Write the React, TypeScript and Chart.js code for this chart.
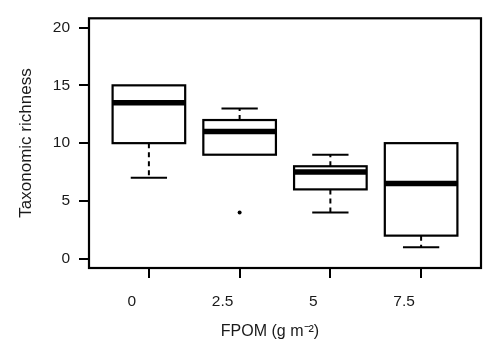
import React, { useEffect, useRef } from "react";
import { Chart, registerables } from "chart.js";

Chart.register(...registerables);

// ---- data ----
const categories = ["0", "2.5", "5", "7.5"];
const lowerWhisker = [7, 9, 4, 1];
const q1 = [10, 9, 6, 2];
const median = [13.5, 11, 7.5, 6.5];
const q3 = [15, 12, 8, 10];
const upperWhisker = [15, 13, 9, 10];
const outlierGroup = [2];
const outlierValue = [4];
const yTicks = [0, 5, 10, 15, 20];
const xTitle = "FPOM (g m\u207B\u00B2)";
const yTitle = "Taxonomic richness";

const FONT = "'Liberation Sans', Arial, Helvetica, sans-serif";
const TEXT = "#1a1a1a";

const boxPlugin = {
  id: "boxes",
  beforeDatasetsDraw(chart: any) {
    const { ctx, chartArea, scales } = chart;
    const x = scales.x;
    const y = scales.y;
    const line = (x1: number, y1: number, x2: number, y2: number) => {
      ctx.beginPath();
      ctx.moveTo(x1, y1);
      ctx.lineTo(x2, y2);
      ctx.stroke();
    };
    ctx.save();
    ctx.strokeStyle = "#000";
    ctx.lineCap = "butt";
    categories.forEach((_, i) => {
      const pos = i + 1;
      const xl = x.getPixelForValue(pos - 0.4);
      const xr = x.getPixelForValue(pos + 0.4);
      const xc = x.getPixelForValue(pos);
      const cl = x.getPixelForValue(pos - 0.2);
      const cr = x.getPixelForValue(pos + 0.2);
      const yq1 = y.getPixelForValue(q1[i]);
      const yq3 = y.getPixelForValue(q3[i]);
      const ylw = y.getPixelForValue(lowerWhisker[i]);
      const yuw = y.getPixelForValue(upperWhisker[i]);
      const ymed = y.getPixelForValue(median[i]);
      ctx.lineWidth = 2;
      ctx.setLineDash([5, 4]);
      if (upperWhisker[i] > q3[i]) line(xc, yq3, xc, yuw);
      if (lowerWhisker[i] < q1[i]) line(xc, yq1, xc, ylw);
      ctx.setLineDash([]);
      if (upperWhisker[i] > q3[i]) line(cl, yuw, cr, yuw);
      if (lowerWhisker[i] < q1[i]) line(cl, ylw, cr, ylw);
      ctx.lineWidth = 2.2;
      ctx.strokeRect(xl, yq3, xr - xl, yq1 - yq3);
      ctx.lineWidth = 5.5;
      line(xl, ymed, xr, ymed);
    });
    ctx.lineWidth = 2.2;
    ctx.strokeRect(
      chartArea.left,
      chartArea.top,
      chartArea.right - chartArea.left,
      chartArea.bottom - chartArea.top
    );
    ctx.restore();
  },
  afterDraw(chart: any) {
    const { ctx } = chart;
    ctx.save();
    ctx.fillStyle = TEXT;
    ctx.textAlign = "center";
    ctx.textBaseline = "middle";
    ctx.font = `16px ${FONT}`;
    ctx.fillText(xTitle, 270, 332);
    ctx.font = `17px ${FONT}`;
    ctx.translate(26, 143);
    ctx.rotate(-Math.PI / 2);
    ctx.fillText(yTitle, 0, 0);
    ctx.restore();
  },
};

export default function App() {
  const ref = useRef<HTMLCanvasElement>(null);
  useEffect(() => {
    if (!ref.current) return;
    const chart = new Chart(ref.current, {
      type: "scatter",
      data: {
        datasets: [
          {
            data: outlierGroup.map((g, i) => ({ x: g, y: outlierValue[i] })),
            pointRadius: 2,
            pointBackgroundColor: "#000",
            pointBorderWidth: 0,
          },
        ],
      },
      options: {
        animation: false,
        responsive: false,
        devicePixelRatio: 1,
        layout: { padding: { top: 8, right: 8, left: 0, bottom: 0 } },
        plugins: { legend: { display: false }, tooltip: { enabled: false } },
        scales: {
          x: {
            type: "linear",
            min: 0.34,
            max: 4.66,
            afterBuildTicks: (s: any) => {
              s.ticks = categories.map((_, i) => ({ value: i + 1 }));
            },
            afterFit: (s: any) => {
              s.height = 75;
            },
            ticks: {
              callback: (v: any) => categories[Math.round(Number(v)) - 1] ?? "",
              font: { family: FONT, size: 15.5 },
              color: TEXT,
              padding: 14,
              labelOffset: -17,
              maxRotation: 0,
              autoSkip: false,
            },
            grid: {
              drawOnChartArea: false,
              drawTicks: true,
              tickLength: 10,
              color: "#000",
              lineWidth: 2,
            },
            border: { display: false },
          },
          y: {
            type: "linear",
            min: -0.8,
            max: 20.8,
            afterBuildTicks: (s: any) => {
              s.ticks = yTicks.map((v) => ({ value: v }));
            },
            afterFit: (s: any) => {
              s.width = 89;
            },
            ticks: {
              font: { family: FONT, size: 15.5 },
              color: TEXT,
              padding: 9,
              autoSkip: false,
            },
            grid: {
              drawOnChartArea: false,
              drawTicks: true,
              tickLength: 10,
              color: "#000",
              lineWidth: 2,
            },
            border: { display: false },
          },
        },
      },
      plugins: [boxPlugin],
    } as any);
    return () => chart.destroy();
  }, []);
  return (
    <div style={{ position: "fixed", left: 0, top: 0, width: 489, height: 343, background: "#fff" }}>
      <canvas ref={ref} width={489} height={343} style={{ display: "block" }} />
    </div>
  );
}
